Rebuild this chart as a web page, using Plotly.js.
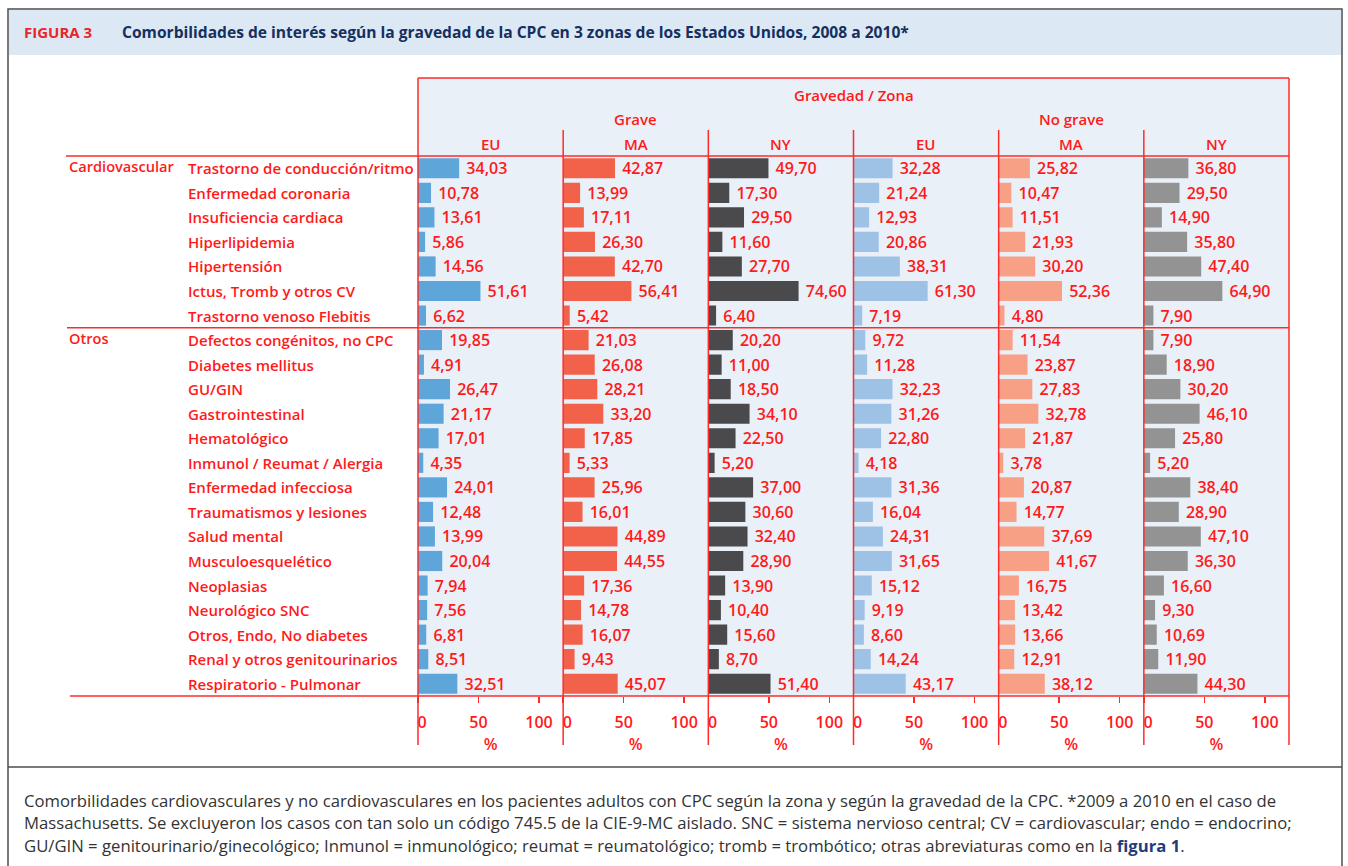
<!DOCTYPE html>
<html>
<head>
<meta charset="utf-8">
<script src="https://cdn.plot.ly/plotly-3.0.1.min.js"></script>
<style>
  html, body { margin: 0; padding: 0; background: #ffffff; }
  #chart { width: 1348px; height: 866px; }
</style>
</head>
<body>
<div id="chart"></div>
<script>
// ---------------- DATA ----------------
const categories = [
  "Trastorno de conducción/ritmo",
  "Enfermedad coronaria",
  "Insuficiencia cardiaca",
  "Hiperlipidemia",
  "Hipertensión",
  "Ictus, Tromb y otros CV",
  "Trastorno venoso Flebitis",
  "Defectos congénitos, no CPC",
  "Diabetes mellitus",
  "GU/GIN",
  "Gastrointestinal",
  "Hematológico",
  "Inmunol / Reumat / Alergia",
  "Enfermedad infecciosa",
  "Traumatismos y lesiones",
  "Salud mental",
  "Musculoesquelético",
  "Neoplasias",
  "Neurológico SNC",
  "Otros, Endo, No diabetes",
  "Renal y otros genitourinarios",
  "Respiratorio - Pulmonar"
];
const groupLabels = ["Cardiovascular", "Otros"];
const groupStartIndex = [0, 7];

const graveEU = [34.03, 10.78, 13.61, 5.86, 14.56, 51.61, 6.62, 19.85, 4.91, 26.47, 21.17, 17.01, 4.35, 24.01, 12.48, 13.99, 20.04, 7.94, 7.56, 6.81, 8.51, 32.51];
const graveMA = [42.87, 13.99, 17.11, 26.30, 42.70, 56.41, 5.42, 21.03, 26.08, 28.21, 33.20, 17.85, 5.33, 25.96, 16.01, 44.89, 44.55, 17.36, 14.78, 16.07, 9.43, 45.07];
const graveNY = [49.70, 17.30, 29.50, 11.60, 27.70, 74.60, 6.40, 20.20, 11.00, 18.50, 34.10, 22.50, 5.20, 37.00, 30.60, 32.40, 28.90, 13.90, 10.40, 15.60, 8.70, 51.40];
const noGraveEU = [32.28, 21.24, 12.93, 20.86, 38.31, 61.30, 7.19, 9.72, 11.28, 32.23, 31.26, 22.80, 4.18, 31.36, 16.04, 24.31, 31.65, 15.12, 9.19, 8.60, 14.24, 43.17];
const noGraveMA = [25.82, 10.47, 11.51, 21.93, 30.20, 52.36, 4.80, 11.54, 23.87, 27.83, 32.78, 21.87, 3.78, 20.87, 14.77, 37.69, 41.67, 16.75, 13.42, 13.66, 12.91, 38.12];
const noGraveNY = [36.80, 29.50, 14.90, 35.80, 47.40, 64.90, 7.90, 7.90, 18.90, 30.20, 46.10, 25.80, 5.20, 38.40, 28.90, 47.10, 36.30, 16.60, 9.30, 10.69, 11.90, 44.30];

const zones = ["EU", "MA", "NY", "EU", "MA", "NY"];
const severities = ["Grave", "No grave"];
const tickValues = [0, 50, 100];
const axisUnit = "%";

const figureLabel = "FIGURA 3";
const figureTitle = "Comorbilidades de interés según la gravedad de la CPC en 3 zonas de los Estados Unidos, 2008 a 2010*";
const headerTitle = "Gravedad / Zona";
const captionLines = [
  "Comorbilidades cardiovasculares y no cardiovasculares en los pacientes adultos con CPC según la zona y según la gravedad de la CPC. *2009 a 2010 en el caso de",
  "Massachusetts. Se excluyeron los casos con tan solo un código 745.5 de la CIE-9-MC aislado. SNC = sistema nervioso central; CV = cardiovascular; endo = endocrino;",
  "GU/GIN = genitourinario/ginecológico; Inmunol = inmunológico; reumat = reumatológico; tromb = trombótico; otras abreviaturas como en la <b><span style='color:#1f3d7a'>figura 1</span></b>."
];

// ---------------- STYLE ----------------
const series = [graveEU, graveMA, graveNY, noGraveEU, noGraveMA, noGraveNY];
const colors = ["#5ea5da", "#f2614a", "#4a4a4d", "#9dc2e6", "#f7a086", "#939393"];
const RED = "#ff1a1a";
const LINE_RED = "#ff2a2a";
const FONT = "Open Sans, Noto Sans, sans-serif";
const W = 1348, H = 866;
const px = x => x / W;
const py = y => 1 - y / H;

const left = 418, right = 1289, panelW = (right - left) / 6;
const edges = Array.from({length: 7}, (_, i) => left + i * panelW);
const plotTop = 156, plotBottom = 696;

const fmt = arr => arr.map(v => v.toFixed(2).replace(".", ","));
const NB = "\u00a0";

// ---------------- TRACES ----------------
const data = series.map((vals, i) => ({
  type: "bar",
  orientation: "h",
  x: vals,
  y: categories,
  xaxis: i === 0 ? "x" : "x" + (i + 1),
  yaxis: "y",
  marker: {color: colors[i], line: {width: 0}},
  text: fmt(vals).map(s => NB + s),
  textposition: "outside",
  constraintext: "none",
  cliponaxis: false,
  textfont: {family: FONT, size: 16, color: RED, weight: 600},
  hoverinfo: "skip",
  showlegend: false
}));

// ---------------- LAYOUT ----------------
const layout = {
  width: W, height: H,
  margin: {l: 0, r: 0, t: 0, b: 0},
  paper_bgcolor: "#ffffff",
  plot_bgcolor: "#e9f0f8",
  bargap: 0.18,
  showlegend: false,
  font: {family: FONT, color: RED},
  yaxis: {
    domain: [py(plotBottom), py(plotTop)],
    anchor: "x",
    type: "category",
    range: [categories.length - 0.5, -0.5],
    showticklabels: false, ticks: "", showgrid: false, zeroline: false, showline: false,
    fixedrange: true
  },
  shapes: [],
  annotations: []
};

for (let i = 0; i < 6; i++) {
  const key = i === 0 ? "xaxis" : "xaxis" + (i + 1);
  layout[key] = {
    domain: [px(edges[i]), px(edges[i + 1])],
    anchor: "y",
    range: [0, 120],
    tickvals: tickValues,
    ticktext: tickValues.map(v => v === 0 ? NB + NB + String(v) : String(v)),
    ticks: "outside",
    ticklen: 6,
    tickwidth: 1.5,
    tickcolor: LINE_RED,
    ticklabelstandoff: 6,
    tickfont: {family: FONT, size: 16, color: RED, weight: 600},
    showgrid: false, zeroline: false, showline: false,
    title: {text: axisUnit, font: {family: FONT, size: 16, color: RED, weight: 600}, standoff: 6},
    fixedrange: true
  };
}

const S = layout.shapes;
// outer frame
S.push({type: "rect", xref: "paper", yref: "paper", x0: px(8), x1: px(1342), y0: py(9), y1: py(880),
  line: {color: "#4d4d4d", width: 1.5}, fillcolor: "rgba(0,0,0,0)", layer: "below"});
// header band
S.push({type: "rect", xref: "paper", yref: "paper", x0: px(9), x1: px(1341), y0: py(10), y1: py(55),
  line: {width: 0}, fillcolor: "#dde8f5", layer: "below"});
// caption divider
S.push({type: "line", xref: "paper", yref: "paper", x0: px(8), x1: px(1342), y0: py(767), y1: py(767),
  line: {color: "#4d4d4d", width: 1.5}});
// plot panel background (including header area)
S.push({type: "rect", xref: "paper", yref: "paper", x0: px(left), x1: px(right), y0: py(plotBottom), y1: py(78),
  line: {width: 0}, fillcolor: "#e9f0f8", layer: "below"});
// top border
S.push({type: "line", xref: "paper", yref: "paper", x0: px(left), x1: px(right), y0: py(78), y1: py(78),
  line: {color: LINE_RED, width: 1.5}});
// outer left/right borders
[left, right].forEach(x => S.push({type: "line", xref: "paper", yref: "paper", x0: px(x), x1: px(x), y0: py(78), y1: py(745),
  line: {color: LINE_RED, width: 1.5}}));
// inner panel separators
for (let i = 1; i < 6; i++) {
  S.push({type: "line", xref: "paper", yref: "paper", x0: px(edges[i]), x1: px(edges[i]), y0: py(130), y1: py(745),
    line: {color: LINE_RED, width: 1.5}});
}
// header bottom line
S.push({type: "line", xref: "paper", yref: "paper", x0: px(66), x1: px(right), y0: py(plotTop), y1: py(plotTop),
  line: {color: LINE_RED, width: 1.5}});
// group separator
S.push({type: "line", xref: "paper", yref: "y", x0: px(67), x1: px(right), y0: groupStartIndex[1] - 0.5, y1: groupStartIndex[1] - 0.5,
  line: {color: LINE_RED, width: 1.5}});
// axis bottom line
S.push({type: "line", xref: "paper", yref: "paper", x0: px(70), x1: px(right), y0: py(plotBottom), y1: py(plotBottom),
  line: {color: LINE_RED, width: 1.5}});

const A = layout.annotations;
const txt = (x, y, text, opts = {}) => Object.assign({
  x: px(x), y: py(y), xref: "paper", yref: "paper", text: text, showarrow: false,
  xanchor: "center", yanchor: "middle",
  font: {family: FONT, size: 15, color: RED}
}, opts);
const HF = {family: FONT, size: 15, color: RED, weight: 600};

// title
A.push(txt(22, 32, figureLabel, {xanchor: "left", font: {family: FONT, size: 15, color: "#e8262b", weight: 700}}));
A.push(txt(120, 32, figureTitle, {xanchor: "left", font: {family: FONT, size: 15.6, color: "#15305f", weight: 700}}));
// header labels
A.push(txt((left + right) / 2, 95, headerTitle, {font: HF}));
severities.forEach((s, k) => {
  A.push(txt((edges[k * 3] + edges[k * 3 + 3]) / 2, 119, s, {font: HF}));
});
zones.forEach((z, i) => {
  A.push(txt((edges[i] + edges[i + 1]) / 2, 144, z, {font: HF}));
});
// row labels
categories.forEach(c => {
  A.push({x: px(186), xref: "paper", xanchor: "left", y: c, yref: "y", yanchor: "middle", text: c, showarrow: false,
    font: {family: FONT, size: 15, color: RED, weight: 600}});
});
// group labels
groupLabels.forEach((g, k) => {
  A.push({x: px(67), xref: "paper", xanchor: "left", y: categories[groupStartIndex[k]], yref: "y", yanchor: "middle", yshift: 2,
    text: g, showarrow: false, font: {family: FONT, size: 14.6, color: RED, weight: 600}});
});
// caption
captionLines.forEach((line, k) => {
  A.push(txt(22, 800 + k * 22.5, line, {xanchor: "left", font: {family: FONT, size: 16.7, color: "#333333"}}));
});

Plotly.newPlot("chart", data, layout, {displayModeBar: false, staticPlot: true});
</script>
</body>
</html>
